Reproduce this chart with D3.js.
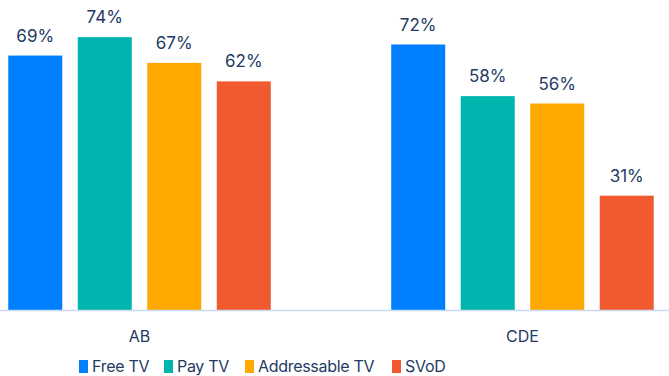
<!DOCTYPE html>
<html>
<head>
<meta charset="utf-8">
<script src="https://cdn.jsdelivr.net/npm/d3@7"></script>
<style>
  html, body { margin: 0; padding: 0; background: #fff; }
  svg text { font-family: "Inter", "Lato", sans-serif; }
</style>
</head>
<body>
<svg id="chart" width="669" height="376"></svg>
<script>
// Groups, series and values (percent)
const groups = ["AB", "CDE"];
const seriesNames = ["Free TV", "Pay TV", "Addressable TV", "SVoD"];
const seriesColors = ["#0080ff", "#00b5ad", "#ffa800", "#f05a2e"];
const abValues = [69, 74, 67, 62];
const cdeValues = [72, 58, 56, 31];
const groupValues = [abValues, cdeValues];

const svg = d3.select("#chart");
const W = 669, baseY = 310;

const x0 = d3.scaleBand().domain(groups).range([0.5, 661.5]).paddingInner(0.274).paddingOuter(0);
const x1 = d3.scaleBand().domain(seriesNames).range([0, x0.bandwidth()]).paddingInner(0.223).paddingOuter(0.1115);
const y = d3.scaleLinear().domain([0, 80]).range([baseY, 15]);
const color = d3.scaleOrdinal().domain(seriesNames).range(seriesColors);

const data = groups.map((g, gi) => ({
  group: g,
  items: seriesNames.map((s, si) => ({ series: s, value: groupValues[gi][si] }))
}));

const g = svg.selectAll("g.group").data(data).join("g")
  .attr("class", "group")
  .attr("transform", d => `translate(${x0(d.group)},0)`);

g.selectAll("rect").data(d => d.items).join("rect")
  .attr("x", d => x1(d.series))
  .attr("y", d => y(d.value))
  .attr("width", x1.bandwidth())
  .attr("height", d => y(0) - y(d.value))
  .attr("fill", d => color(d.series));

g.selectAll("text.val").data(d => d.items).join("text")
  .attr("class", "val")
  .attr("x", d => x1(d.series) + x1.bandwidth() / 2)
  .attr("y", d => y(d.value) - 14)
  .attr("text-anchor", "middle")
  .attr("font-size", 17)
  .attr("fill", "#243a63")
  .text(d => d.value + "%");

// Baseline axis
const xAxis = d3.axisBottom(x0).tickSize(0).tickPadding(21);
const ax = svg.append("g").attr("transform", `translate(0,${baseY})`).call(xAxis);
ax.select(".domain").remove();
ax.selectAll("text").attr("font-size", 16).attr("fill", "#243a63")
  .style("font-family", "Inter, Lato, sans-serif");
svg.append("line").attr("x1", 0).attr("x2", W).attr("y1", baseY + 0.5).attr("y2", baseY + 0.5)
  .attr("stroke", "#c9dcf3").attr("stroke-width", 1.5);

// Legend
const legendX = [79, 164, 245, 392];
const legend = svg.append("g");
const li = legend.selectAll("g").data(seriesNames).join("g")
  .attr("transform", (d, i) => `translate(${legendX[i]},360)`);
li.append("rect").attr("width", 9).attr("height", 13).attr("fill", d => color(d));
li.append("text").attr("x", 13).attr("y", 12).attr("font-size", 16)
  .attr("letter-spacing", -0.3)
  .attr("fill", "#243a63").text(d => d);
</script>
</body>
</html>
